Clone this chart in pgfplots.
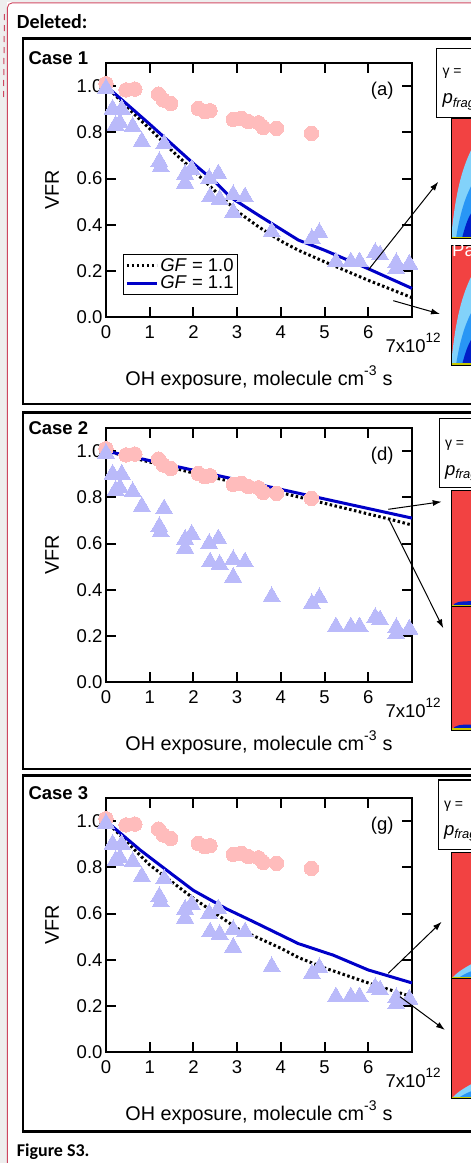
\documentclass[border=0pt]{standalone}
\usepackage{fontspec}
\setmainfont{Liberation Sans}
\newfontfamily\calibri{Carlito}
\usepackage{pgfplots}
\pgfplotsset{compat=1.18}
\usepackage{pgfplotstable}
\usetikzlibrary{arrows.meta}

\definecolor{pinkpt}{RGB}{255,188,188}
\definecolor{lavpt}{RGB}{186,186,250}
\definecolor{gfblue}{RGB}{0,0,200}
\definecolor{imgred}{RGB}{242,66,66}
\definecolor{docred}{RGB}{205,70,95}
\definecolor{docgray}{RGB}{238,238,238}
\definecolor{cyanA}{RGB}{130,210,250}
\definecolor{cyanB}{RGB}{40,150,245}
\definecolor{cyanC}{RGB}{0,30,200}
\definecolor{imgyel}{RGB}{200,200,0}

\newcommand{\fs}{\fontsize{18.5}{21}\selectfont}
\newcommand{\fl}{\fontsize{19.8}{22}\selectfont}

% measured points (same in all three cases)
\pgfplotstableread{
x y
0 1.01
0.46 0.983
0.66 0.987
1.20 0.965
1.31 0.94
1.48 0.925
2.11 0.903
2.26 0.889
2.38 0.893
2.91 0.856
3.10 0.86
3.26 0.846
3.49 0.841
3.60 0.821
3.90 0.817
4.70 0.795
}\circdata

\pgfplotstableread{
x y
0 0.99
0.15 0.90
0.36 0.90
0.22 0.83
0.32 0.84
0.61 0.824
0.82 0.76
1.33 0.75
1.22 0.673
1.25 0.65
1.81 0.618
1.96 0.64
1.81 0.58
2.36 0.60
2.57 0.62
2.38 0.52
2.60 0.51
2.91 0.53
3.18 0.52
2.91 0.454
3.79 0.37
4.71 0.34
4.88 0.366
5.26 0.24
5.60 0.24
5.80 0.24
6.16 0.28
6.27 0.27
6.64 0.236
6.64 0.21
6.94 0.23
}\tridata

\pgfplotsset{
  vfr/.style={
    scale only axis, width=306pt, height=254.4pt,
    anchor=south west,
    xmin=0, xmax=7, ymin=0, ymax=1.1,
    axis line style={line width=2pt},
    every tick/.style={line width=2pt, black},
    tick align=inside, major tick length=10pt,
    xtick={0,...,7}, xticklabels={0,1,2,3,4,5,6,{}},
    ytick={0,0.2,0.4,0.6,0.8,1.0},
    yticklabels={0.0,0.2,0.4,0.6,0.8,1.0},
    ticklabel style={font=\fs},
    xticklabel style={yshift=-5pt},
    clip=false,
  },
  pts/.style={only marks, color=pinkpt, mark=*, mark size=7.2pt, mark options={fill=pinkpt, line width=0pt}, forget plot},
  tri/.style={only marks, color=lavpt, mark=triangle*, mark size=9.8pt, mark options={fill=lavpt, line width=0pt}, forget plot},
  gfa/.style={black, line width=3pt, dash pattern=on 2.5pt off 2.5pt},
  gfb/.style={gfblue, line width=3pt},
}

\newcommand{\decor}[1]{%
  \node[anchor=east, font=\fs] at (rel axis cs:1,1) [xshift=-15pt, yshift=-28pt] {#1};
  \node[rotate=90, font=\fl] at (rel axis cs:0,0.5) [yshift=54pt] {VFR};
  \node[anchor=west, font=\fs] at (axis cs:7,0) [xshift=-30pt, yshift=-26pt]
    {7x10\raisebox{10pt}{\fontsize{13.5}{13.5}\selectfont 12}};
  \node[font=\fl] at (axis cs:3.5,0) [yshift=-60pt]
    {OH exposure, molecule cm\raisebox{10pt}{\fontsize{14}{14}\selectfont -3}\hspace{6pt}s};
}

\begin{document}
\begin{tikzpicture}
\path[use as bounding box] (0pt,0pt) rectangle (471pt,-1163pt);
\clip (0pt,0pt) rectangle (471pt,-1163pt);

\begin{scope}[x=1pt, y=1pt]
% page background and margin
\fill[docgray] (0,0) rectangle (7,-1163);
\fill[docgray] (0,0) rectangle (471,-2);
\draw[docred, line width=0.9pt, rounded corners=5pt] (7.4,-1170) -- (7.4,-2.8) -- (480,-2.8);
\draw[docred, line width=1pt, dash pattern=on 6pt off 5pt] (4.5,-14) -- (3.5,-100);

\node[anchor=west, inner sep=0pt, font=\calibri\bfseries\fontsize{20}{22}\selectfont] at (16.7,-22) {Deleted:};
\node[anchor=west, inner sep=0pt, font=\calibri\bfseries\fontsize{18}{20}\selectfont] at (16.7,-1151.5) {Figure S3.};

% panel frames
\draw[line width=2.6pt] (23,-38.3) rectangle (490,-404);
\draw[line width=2.6pt] (23,-412.3) rectangle (490,-769);
\draw[line width=2.6pt] (23,-775.5) rectangle (490,-1131.7);

\node[anchor=west, inner sep=0pt, font=\bfseries\fs] at (28.3,-58.3) {Case 1};
\node[anchor=west, inner sep=0pt, font=\bfseries\fs] at (28.3,-427.7) {Case 2};
\node[anchor=west, inner sep=0pt, font=\bfseries\fs] at (28.3,-792.7) {Case 3};

% parameter boxes at right
\draw[line width=1.3pt] (436.7,-48.3) rectangle (490,-117.3);
\node[anchor=west, font=\fontsize{14}{14}\selectfont] at (439,-73.3) {γ =};
\node[anchor=west, font=\fs\itshape] at (439,-101.7) {p\textsubscript{frag}};
\draw[line width=1.3pt] (439.3,-418.3) rectangle (490,-487.3);
\node[anchor=west, font=\fontsize{14}{14}\selectfont] at (441.5,-445) {γ =};
\node[anchor=west, font=\fs\itshape] at (441.5,-473.3) {p\textsubscript{frag}};
\draw[line width=1.3pt] (438.3,-780) rectangle (490,-849.3);
\node[anchor=west, font=\fontsize{14}{14}\selectfont] at (440.5,-806.7) {γ =};
\node[anchor=west, font=\fs\itshape] at (440.5,-833.3) {p\textsubscript{frag}};

% panel 1 images
\foreach \b in {238.3,365} {
  \fill[imgred] (451,-\b+120) rectangle (480,-\b);
  \fill[cyanA] (451,-\b) .. controls (455,-\b+40) and (460,-\b+65) .. (471,-\b+88) -- (471,-\b) -- cycle;
  \fill[cyanB] (456,-\b) .. controls (460,-\b+25) and (465,-\b+40) .. (471,-\b+52) -- (471,-\b) -- cycle;
  \fill[cyanC] (462,-\b) .. controls (465,-\b+12) and (468,-\b+20) .. (471,-\b+25) -- (471,-\b) -- cycle;
  \draw[imgyel, line width=1.4pt] (451,-\b+1) -- (480,-\b+1);
  \draw[line width=1pt] (451,-\b+120) rectangle (480,-\b);
}
\node[anchor=west, text=white, font=\fs, inner sep=0pt] at (452,-250) {Pa};

% panel 2 images
\foreach \t/\b in {490/606.7,606.7/730} {
  \fill[imgred] (451.7,-\t) rectangle (480,-\b);
  \fill[cyanC] (452.5,-\b) .. controls (454,-\b+5) and (460,-\b+5.5) .. (472,-\b+5.5) -- (472,-\b) -- cycle;
  \draw[imgyel, line width=1.4pt] (451.7,-\b+1) -- (480,-\b+1);
  \draw[line width=1pt] (451.7,-\t) rectangle (480,-\b);
}

% panel 3 images
\foreach \t/\b in {852.7/978.3,978.3/1098.3} {
  \fill[imgred] (451.7,-\t) rectangle (480,-\b);
  \fill[cyanA] (452,-\b) .. controls (456,-\b+5) and (462,-\b+9) .. (471,-\b+14) -- (471,-\b) -- cycle;
  \fill[cyanB] (458,-\b) .. controls (462,-\b+3) and (466,-\b+5) .. (471,-\b+7) -- (471,-\b) -- cycle;
  \draw[imgyel, line width=1.4pt] (451.7,-\b+1) -- (480,-\b+1);
  \draw[line width=1pt] (451.7,-\t) rectangle (480,-\b);
}
\end{scope}

% ---------- Case 1 ----------
\begin{axis}[vfr, at={(106pt,-317.3pt)},
  legend style={at={(0.055,0.088)}, anchor=south west, draw=black, line width=1pt,
    font=\fs, inner sep=2pt, row sep=-1pt},
  legend cell align=left,
  legend image code/.code={\draw[#1] (0pt,0pt) -- (30pt,0pt);}]
\addplot[pts] table {\circdata};
\addplot[tri] table {\tridata};
\addplot[gfa] coordinates {(0,1.0) (0.5,0.905) (1,0.815) (1.5,0.722) (2,0.635) (2.5,0.545) (3,0.458) (3.5,0.39) (4,0.33) (4.4,0.29) (5,0.24) (6,0.16) (7,0.085)};
\addlegendentry{\textit{GF} = 1.0}
\addplot[gfb] coordinates {(0,1.0) (0.5,0.918) (1,0.835) (1.5,0.75) (2,0.665) (2.5,0.585) (2.84,0.52) (3.5,0.44) (4.4,0.334) (5,0.29) (6,0.21) (7,0.125)};
\addlegendentry{\textit{GF} = 1.1}
\decor{(a)}
\end{axis}

% ---------- Case 2 ----------
\begin{axis}[vfr, at={(106pt,-682.3pt)}]
\addplot[pts] table {\circdata};
\addplot[tri] table {\tridata};
\addplot[gfa] coordinates {(0,1.0) (2,0.905) (4,0.82) (6.5,0.705) (7,0.68)};
\addplot[gfb] coordinates {(0,1.0) (7,0.71)};
\decor{(d)}
\end{axis}

% ---------- Case 3 ----------
\begin{axis}[vfr, at={(106pt,-1052.3pt)}]
\addplot[pts] table {\circdata};
\addplot[tri] table {\tridata};
\addplot[gfa] coordinates {(0,1.0) (1,0.81) (2,0.666) (3,0.536) (4,0.45) (4.4,0.41) (5,0.365) (6,0.30) (7,0.24)};
\addplot[gfb] coordinates {(0,1.0) (0.78,0.875) (1.39,0.787) (2.0,0.70) (2.76,0.62) (3.37,0.565) (4.4,0.47) (5.2,0.42) (6.0,0.356) (7.0,0.30)};
\decor{(g)}
\end{axis}

% arrows to the images
\begin{scope}[x=1pt, y=1pt, line width=1pt, -{Latex[length=9pt, width=6pt]}]
\draw (368.3,-270) -- (438.3,-181.7);
\draw (393.3,-300.7) -- (440,-314);
\draw (388.3,-509.3) -- (441.7,-501.7);
\draw (389.3,-520) -- (443.3,-628.3);
\draw (388.3,-973.3) -- (441.7,-921.7);
\draw (400,-996.7) -- (445,-1030);
\end{scope}
\end{tikzpicture}
\end{document}
